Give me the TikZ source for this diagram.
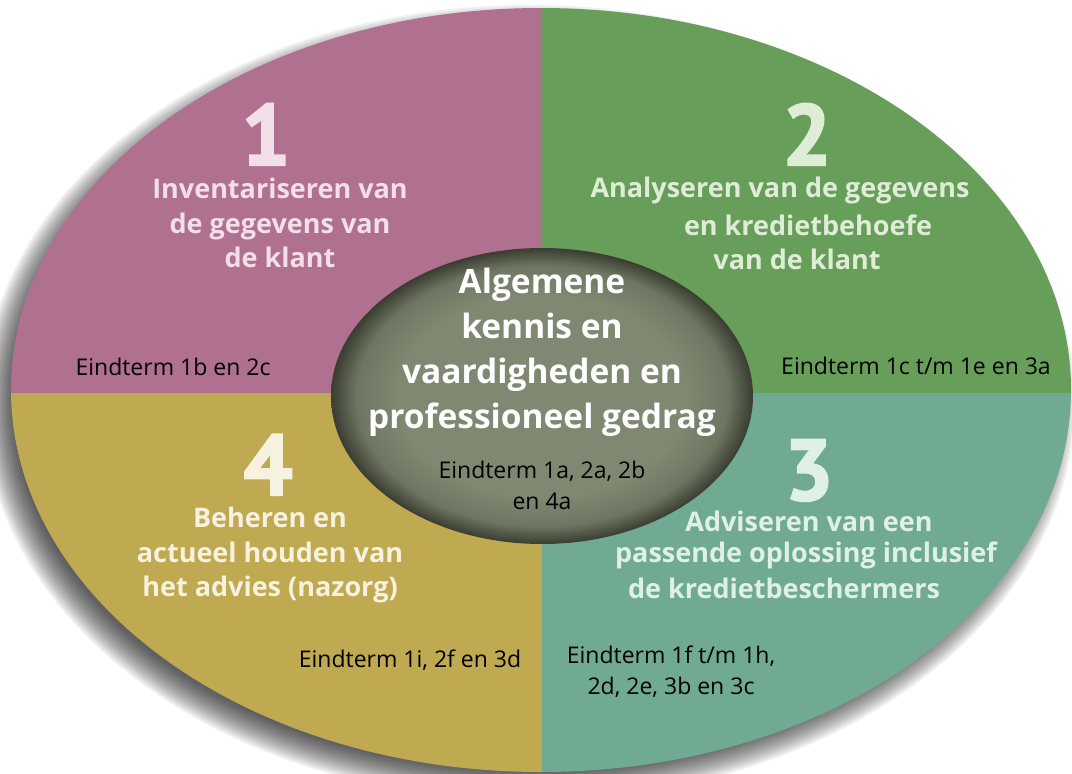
\documentclass[tikz,border=0pt]{standalone}
\usepackage{fontspec}
\setmainfont{Open Sans}
\newfontfamily\numfont{PT Sans Bold}[FakeBold=2.5]
\definecolor{qpink}{HTML}{B0708F}
\definecolor{qgreen}{HTML}{679E59}
\definecolor{qgold}{HTML}{BFA951}
\definecolor{qteal}{HTML}{70AA93}
\definecolor{tpink}{HTML}{F2DFE8}
\definecolor{tgreen}{HTML}{DFEDD7}
\definecolor{tgold}{HTML}{F7F2E0}
\definecolor{tteal}{HTML}{DFF0E7}
\definecolor{cmid}{HTML}{7F8971}
\definecolor{crim}{HTML}{3A3D31}
\pgfdeclareradialshading{innershade}{\pgfpoint{0bp}{0bp}}{%
  color(0bp)=(cmid); color(17bp)=(cmid); color(22bp)=(cmid!75!crim); color(25bp)=(crim); color(50bp)=(crim)}
\tikzset{
  head/.style={font=\fontsize{27}{34.5}\selectfont\bfseries, align=center, inner sep=0pt},
  bignum/.style={font=\fontsize{86}{86}\selectfont\numfont, inner sep=0pt, anchor=base, text height=58pt, text depth=0pt},
  eind/.style={font=\fontsize{23}{31}\selectfont, align=center, inner sep=0pt, text=black},
}
\begin{document}
\begin{tikzpicture}[x=1pt,y=-1pt]
\useasboundingbox (0,0) rectangle (1072,774);
% blurred shadow
\foreach \i in {0,...,15}{
  \fill[black, opacity=0.06] (529,403) ellipse ({530+16-2*\i} and {382+16-2*\i});
}
% quadrants
\begin{scope}
  \clip (541,390) ellipse (530 and 382);
  \fill[qpink] (0,0) rectangle (542,393);
  \fill[qgreen] (542,0) rectangle (1072,393);
  \fill[qgold] (0,393) rectangle (542,774);
  \fill[qteal] (542,393) rectangle (1072,774);
\end{scope}
% inner ellipse
\shade[shading=innershade] (542,396) ellipse (211 and 148);
\node[coordinate] (c) at (542,396) {};
% quadrant 1
\node[bignum, text=tpink] (n1) at (266,165) {1};
\node[head, text=tpink] (t1) at (280,223) {Inventariseren van\\de gegevens van\\de klant};
\node[eind] (e1) at (173,367) {Eindterm 1b en 2c};
% quadrant 2
\node[bignum, text=tgreen] (n2) at (807,165) {2};
\node[head, text=tgreen] (t2a) at (780,190) {Analyseren van de gegevens};
\node[head, text=tgreen] (t2b) at (808,225) {en kredietbehoefe};
\node[head, text=tgreen] (t2c) at (797,259) {van de klant};
\node[eind] (e2) at (916,366) {Eindterm 1c t/m 1e en 3a};
% quadrant 4
\node[bignum, text=tgold] (n4) at (268,495) {4};
\node[head, text=tgold] (t4) at (270,555) {Beheren en\\actueel houden van\\het advies (nazorg)};
\node[eind] (e4) at (410,660) {Eindterm 1i, 2f en 3d};
% quadrant 3
\node[bignum, text=tteal] (n3) at (809,500) {3};
\node[head, text=tteal] (t3a) at (809,521) {Adviseren van een};
\node[head, text=tteal] (t3b) at (806,555) {passende oplossing inclusief};
\node[head, text=tteal] (t3c) at (784,588) {de kredietbeschermers};
\node[eind] (e3) at (671,672) {Eindterm 1f t/m 1h,\\2d, 2e, 3b en 3c};
% centre
\node[font=\fontsize{33.5}{45}\selectfont\bfseries, align=center, inner sep=0pt, text=white] (tc) at (542,352) {Algemene\\kennis en\\vaardigheden en\\professioneel gedrag};
\node[eind] (ec) at (542,485) {Eindterm 1a, 2a, 2b\\en 4a};
\end{tikzpicture}
\end{document}
